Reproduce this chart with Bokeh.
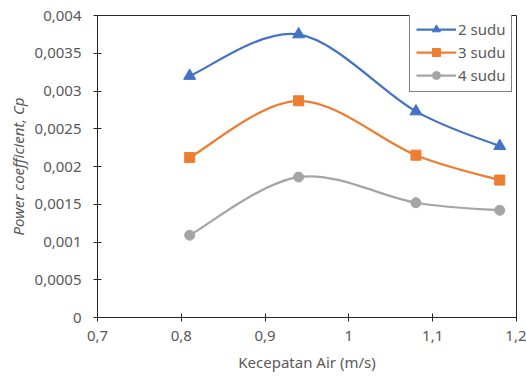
import numpy as np
from bokeh.plotting import figure
from bokeh.models import FixedTicker, CustomJSTickFormatter, ColumnDataSource, Legend, LegendItem
from bokeh.embed import file_html
from bokeh.resources import INLINE

# Data
x_vals = [0.81, 0.94, 1.08, 1.18]
sudu2 = [0.00320, 0.00375, 0.00273, 0.00227]
sudu3 = [0.00212, 0.00287, 0.00215, 0.00182]
sudu4 = [0.00109, 0.00186, 0.00152, 0.00142]
series_names = ["2 sudu", "3 sudu", "4 sudu"]
x_ticks = [0.7, 0.8, 0.9, 1.0, 1.1, 1.2]
y_ticks = [0, 0.0005, 0.001, 0.0015, 0.002, 0.0025, 0.003, 0.0035, 0.004]

colors = ["#4472C4", "#ED7D31", "#A5A5A5"]
markers = ["triangle", "square", "circle"]
msizes = [12, 10, 10]


def bezier_source(xs, ys):
    P = [np.array([a, b], dtype=float) for a, b in zip(xs, ys)]
    n = len(P)
    d = {k: [] for k in ["x0", "y0", "x1", "y1", "cx0", "cy0", "cx1", "cy1"]}
    for i in range(n - 1):
        p0 = P[i - 1] if i > 0 else P[i]
        p1 = P[i]
        p2 = P[i + 1]
        p3 = P[i + 2] if i + 2 < n else P[i + 1]
        c0 = p1 + (p2 - p0) / 6.0
        c1 = p2 - (p3 - p1) / 6.0
        d["x0"].append(p1[0]); d["y0"].append(p1[1])
        d["x1"].append(p2[0]); d["y1"].append(p2[1])
        d["cx0"].append(c0[0]); d["cy0"].append(c0[1])
        d["cx1"].append(c1[0]); d["cy1"].append(c1[1])
    return ColumnDataSource(d)


FONT = "Noto Sans"
GREY = "#595959"
DARK = "#262626"

p = figure(width=526, height=381, x_range=(0.7, 1.2), y_range=(0, 0.004),
           output_backend="svg", toolbar_location=None,
           min_border_left=97, min_border_right=10, min_border_top=15, min_border_bottom=64)
p.background_fill_color = "white"
p.border_fill_color = "white"
p.outline_line_color = DARK
p.outline_line_width = 1
p.xgrid.visible = False
p.ygrid.visible = False

fmt = CustomJSTickFormatter(code="return (+tick.toFixed(6)).toString().replace('.', ',');")

for ax, ticks in ((p.xaxis[0], x_ticks), (p.yaxis[0], y_ticks)):
    ax.ticker = FixedTicker(ticks=ticks)
    ax.formatter = fmt
    ax.minor_tick_line_color = None
    ax.major_tick_in = 4
    ax.major_tick_out = 4
    ax.axis_line_color = DARK
    ax.major_tick_line_color = DARK
    ax.major_label_text_font = FONT
    ax.major_label_text_font_size = "15px"
    ax.major_label_text_color = GREY
    ax.axis_label_text_font = FONT
    ax.axis_label_text_font_size = "15px"
    ax.axis_label_text_color = GREY
    ax.axis_label_text_font_style = "normal"

p.xaxis.axis_label = "Kecepatan Air (m/s)"
p.yaxis.axis_label = "Power coefficient, Cp"
p.yaxis.axis_label_text_font_style = "italic"
p.xaxis.major_label_standoff = 9
p.yaxis.major_label_standoff = 12
p.xaxis.axis_label_standoff = 8
p.yaxis.axis_label_standoff = 4

items = []
for name, ys, c, m, s in zip(series_names, [sudu2, sudu3, sudu4], colors, markers, msizes):
    src = bezier_source(x_vals, ys)
    r1 = p.bezier(x0="x0", y0="y0", x1="x1", y1="y1", cx0="cx0", cy0="cy0",
                  cx1="cx1", cy1="cy1", source=src, line_color=c, line_width=2.25)
    r2 = p.scatter(x_vals, ys, marker=m, size=s, fill_color=c, line_color=c)
    items.append(LegendItem(label=name, renderers=[r1, r2]))

legend = Legend(items=items, location=(312, 225))
legend.border_line_color = "black"
legend.border_line_width = 1
legend.label_text_font = FONT
legend.label_text_font_size = "15px"
legend.label_text_color = GREY
legend.glyph_width = 40
legend.glyph_height = 20
legend.label_height = 20
legend.spacing = 3
legend.padding = 6
legend.margin = 0
legend.label_standoff = 2
legend.background_fill_alpha = 1
p.add_layout(legend, "center")

open("out.html", "w").write(file_html(p, INLINE))
